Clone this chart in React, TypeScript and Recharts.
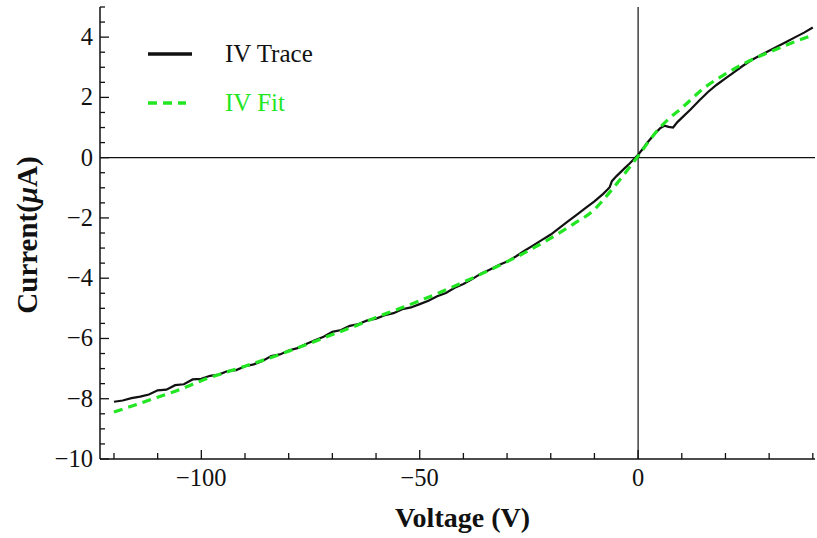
import { Label, Line, LineChart, ReferenceLine, XAxis, YAxis } from 'recharts'

// measured IV trace (V, µA)
const traceVoltage = [
  -120, -118, -116, -114, -112, -110, -108, -106, -104, -102, -100, -98, -96, -94, -92, -90, -88, -86, -84, -82,
  -80, -78, -76, -74, -72, -70, -68, -66, -64, -62, -60, -58, -56, -54, -52, -50, -48, -46, -44, -42, -40, -38,
  -36, -34, -32, -30, -28, -26, -24, -22, -20, -18, -16, -14, -12, -10, -8, -7, -6.5, -6, -5, -4, -3, -2, -1, 0,
  1, 2, 3, 4, 5, 6, 7, 8, 9, 10, 12, 14, 16, 18, 20, 22, 24, 26, 28, 30, 32, 34, 36, 38, 40,
]
const traceCurrent = [
  -8.1, -8.06, -7.98, -7.93, -7.86, -7.72, -7.7, -7.55, -7.52, -7.36, -7.34, -7.24, -7.2, -7.08, -7.05, -6.92,
  -6.86, -6.75, -6.58, -6.53, -6.4, -6.32, -6.18, -6.06, -5.94, -5.78, -5.72, -5.58, -5.52, -5.4, -5.34, -5.23,
  -5.16, -5.03, -4.97, -4.86, -4.75, -4.6, -4.49, -4.32, -4.19, -4.03, -3.85, -3.72, -3.57, -3.45, -3.28, -3.09,
  -2.91, -2.73, -2.55, -2.33, -2.11, -1.89, -1.67, -1.45, -1.2, -1.06, -0.98, -0.78, -0.62, -0.48, -0.34, -0.2,
  -0.05, 0.1, 0.28, 0.48, 0.65, 0.82, 0.97, 1.06, 1.02, 1.0, 1.18, 1.32, 1.6, 1.9, 2.18, 2.42, 2.63, 2.84, 3.05,
  3.24, 3.4, 3.55, 3.7, 3.85, 4.0, 4.15, 4.32,
]

// fitted curve
const fitVoltage = [
  -120, -115, -110, -105, -100, -95, -90, -85, -80, -75, -70, -65, -60, -55, -50, -45, -40, -35, -30, -25, -20,
  -15, -10, -7.5, -5, -2.5, 0, 2.5, 5, 7.5, 10, 15, 20, 25, 30, 35, 40,
]
const fitCurrent = [
  -8.44, -8.2, -7.95, -7.7, -7.4, -7.15, -6.92, -6.68, -6.42, -6.15, -5.87, -5.6, -5.3, -5.03, -4.75, -4.45,
  -4.13, -3.8, -3.45, -3.08, -2.67, -2.22, -1.72, -1.32, -0.88, -0.42, 0.05, 0.55, 1.0, 1.35, 1.65, 2.3, 2.78,
  3.18, 3.5, 3.8, 4.07,
]

const voltageTicks = [-120, -110, -100, -90, -80, -70, -60, -50, -40, -30, -20, -10, 0, 10, 20, 30, 40]
const voltageLabels = [-100, -50, 0]
const currentTicks = [
  -10, -9.5, -9, -8.5, -8, -7.5, -7, -6.5, -6, -5.5, -5, -4.5, -4, -3.5, -3, -2.5, -2, -1.5, -1, -0.5, 0, 0.5,
  1, 1.5, 2, 2.5, 3, 3.5, 4, 4.5, 5,
]
const currentLabels = [-10, -8, -6, -4, -2, 0, 2, 4]

const legendItems = [
  { name: 'IV Trace', color: '#111', dash: undefined as string | undefined },
  { name: 'IV Fit', color: '#22e622', dash: '9 6' },
]

const FONT = '"Liberation Serif", "Times New Roman", serif'
const GREEN = '#22e622'

const traceData = traceVoltage.map((v, i) => ({ v, i: traceCurrent[i] }))
const fitData = fitVoltage.map((v, i) => ({ v, i: fitCurrent[i] }))

const fmt = (n: number) => (n < 0 ? `\u2212${Math.abs(n)}` : `${n}`)

function BottomTick({ x, y, payload }: any) {
  const major = voltageLabels.includes(payload.value)
  return (
    <g>
      <line x1={x} y1={y} x2={x} y2={y - (major ? 9 : 6)} stroke="#111" strokeWidth={1.3} />
      {major && (
        <text x={x} y={y + 27} textAnchor="middle" fontFamily={FONT} fontSize={24.5} fill="#111">
          {fmt(payload.value)}
        </text>
      )}
    </g>
  )
}

function TopTick({ x, y, payload }: any) {
  const major = voltageLabels.includes(payload.value)
  return <line x1={x} y1={y} x2={x} y2={y + (major ? 9 : 6)} stroke="#111" strokeWidth={1.3} />
}

function LeftTick({ x, y, payload }: any) {
  const major = currentLabels.includes(payload.value)
  return (
    <g>
      <line x1={x} y1={y} x2={x + (major ? 9 : 5)} y2={y} stroke="#111" strokeWidth={1.3} />
      {major && (
        <text x={x - 7} y={y + 8} textAnchor="end" fontFamily={FONT} fontSize={24.5} fill="#111">
          {fmt(payload.value)}
        </text>
      )}
    </g>
  )
}

function RightTick({ x, y, payload }: any) {
  const major = currentLabels.includes(payload.value)
  return <line x1={x} y1={y} x2={x - (major ? 9 : 5)} y2={y} stroke="#111" strokeWidth={1.3} />
}

export default function App() {
  return (
    <div style={{ position: 'relative', width: 817, height: 538, background: '#fff' }}>
      <style>{'body{margin:0}'}</style>
      <LineChart width={817} height={538} margin={{ top: 7, right: 2, left: 40, bottom: 39 }}>
        <XAxis
          xAxisId={0}
          dataKey="v"
          type="number"
          domain={[-123.2, 40.5]}
          allowDataOverflow
          ticks={voltageTicks}
          interval={0}
          tickSize={0}
          tickMargin={0}
          tickLine={false}
          tick={<BottomTick />}
          height={40}
          axisLine={{ stroke: '#111', strokeWidth: 1.5 }}
        >
          <Label
            content={({ viewBox }: any) => (
              <text
                x={viewBox.x + viewBox.width / 2 + 5}
                y={viewBox.y + 68}
                textAnchor="middle"
                fontFamily={FONT}
                fontWeight="bold"
                fontSize={28}
                fill="#111"
              >
                Voltage (V)
              </text>
            )}
          />
        </XAxis>
        <XAxis
          xAxisId="top"
          orientation="top"
          dataKey="v"
          type="number"
          domain={[-123.2, 40.5]}
          allowDataOverflow
          ticks={voltageTicks}
          interval={0}
          tickSize={0}
          tickMargin={0}
          tickLine={false}
          tick={<TopTick />}
          height={0}
          axisLine={{ stroke: '#111', strokeWidth: 1.5 }}
        />
        <YAxis
          yAxisId={0}
          type="number"
          domain={[-10, 5]}
          allowDataOverflow
          ticks={currentTicks}
          interval={0}
          tickSize={0}
          tickMargin={0}
          tickLine={false}
          tick={<LeftTick />}
          width={60}
          axisLine={{ stroke: '#111', strokeWidth: 1.5 }}
        >
          <Label
            content={({ viewBox }: any) => {
              const cx = viewBox.x - 13
              const cy = viewBox.y + viewBox.height / 2 + 2
              return (
                <text
                  x={cx}
                  y={cy}
                  transform={`rotate(-90 ${cx} ${cy})`}
                  textAnchor="middle"
                  dominantBaseline="central"
                  fontFamily={FONT}
                  fontWeight="bold"
                  fontSize={29}
                  fill="#111"
                >
                  Current(<tspan fontStyle="italic">μ</tspan>A)
                </text>
              )
            }}
          />
        </YAxis>
        <YAxis
          yAxisId="right"
          orientation="right"
          type="number"
          domain={[-10, 5]}
          allowDataOverflow
          ticks={currentTicks}
          interval={0}
          tickSize={0}
          tickMargin={0}
          tickLine={false}
          tick={<RightTick />}
          width={0}
          axisLine={{ stroke: '#111', strokeWidth: 1.5 }}
        />
        <ReferenceLine y={0} stroke="#111" strokeWidth={1.2} />
        <ReferenceLine x={0} stroke="#111" strokeWidth={1.2} />
        <Line
          data={traceData}
          dataKey="i"
          type="linear"
          stroke="#111"
          strokeWidth={2.2}
          dot={false}
          isAnimationActive={false}
        />
        <Line
          data={fitData}
          dataKey="i"
          type="monotone"
          stroke={GREEN}
          strokeWidth={3.2}
          strokeDasharray="9 6"
          dot={false}
          isAnimationActive={false}
        />
      </LineChart>
      <div style={{ position: 'absolute', left: 146, top: 29 }}>
        {legendItems.map((item) => (
          <div key={item.name} style={{ display: 'flex', alignItems: 'center', height: 49 }}>
            <svg width={79} height={10}>
              <line
                x1={2}
                y1={5}
                x2={item.dash ? 40 : 46}
                y2={5}
                stroke={item.color}
                strokeWidth={3.5}
                strokeDasharray={item.dash}
              />
            </svg>
            <span style={{ fontFamily: FONT, fontSize: 25, lineHeight: '49px', color: item.color }}>
              {item.name}
            </span>
          </div>
        ))}
      </div>
    </div>
  )
}
